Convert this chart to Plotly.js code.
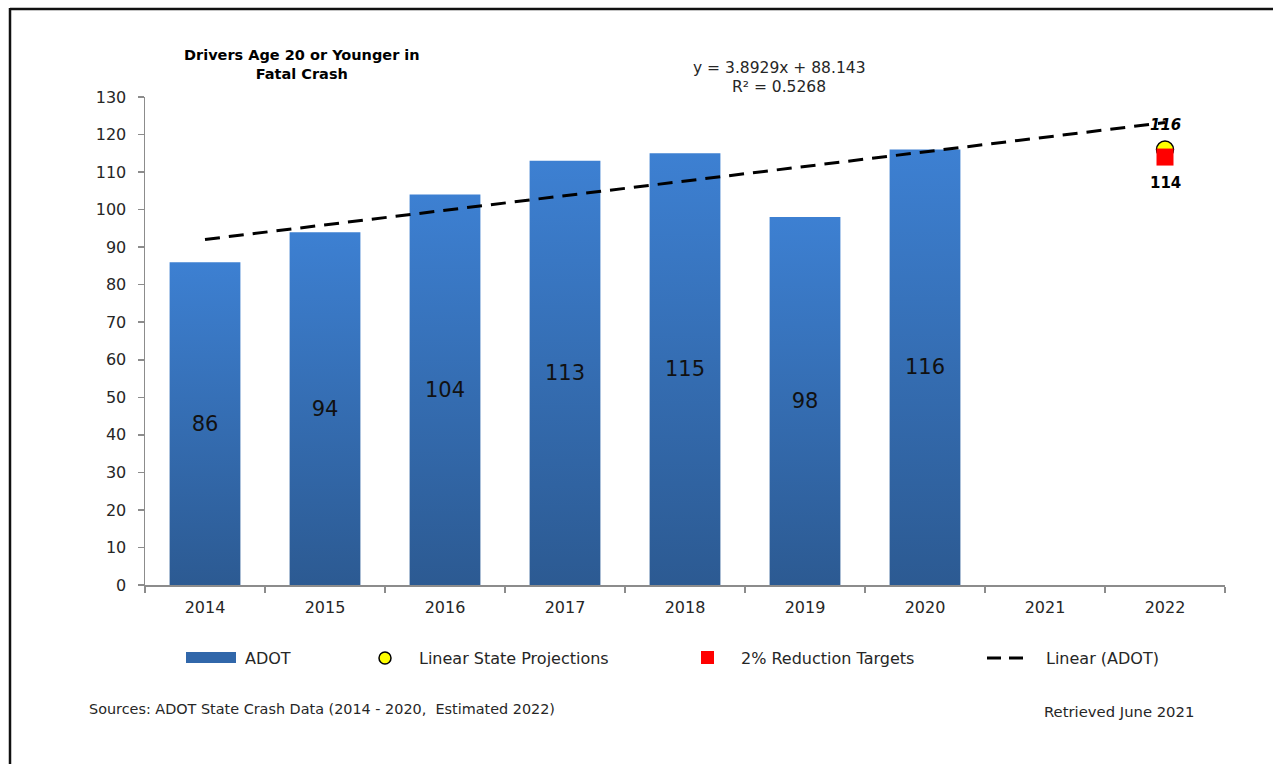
<!DOCTYPE html>
<html>
<head>
<meta charset="utf-8">
<script src="https://cdn.plot.ly/plotly-3.0.1.min.js"></script>
<style>
  html, body { margin: 0; padding: 0; background: #ffffff; }
  #chart { width: 1273px; height: 764px; }
</style>
</head>
<body>
<div id="chart"></div>
<script>
// ---- data ----
const years = ['2014', '2015', '2016', '2017', '2018', '2019', '2020', '2021', '2022'];
const adotYears = ['2014', '2015', '2016', '2017', '2018', '2019', '2020'];
const adotValues = [86, 94, 104, 113, 115, 98, 116];
const projectionYears = ['2022'];
const projectionValues = [116];
const targetYears = ['2022'];
const targetValues = [114];
const trendYears = ['2014', '2022'];
const trendValues = [92.04, 123.18];
const yTicks = [0, 10, 20, 30, 40, 50, 60, 70, 80, 90, 100, 110, 120, 130];

// ---- layout helpers (pixel -> paper) ----
const L = 145, R = 48, T = 97, B = 179, W = 1273, H = 764;
const PW = W - L - R, PH = H - T - B;
const px = x => (x - L) / PW;
const py = y => (H - B - y) / PH;

const textColor = '#262626';
const dvFont = 'DejaVu Sans, sans-serif';

const traces = [
  {
    type: 'bar', name: 'ADOT', x: adotYears, y: adotValues,
    marker: { color: '#3570b8' },
    texttemplate: '%{y}', textposition: 'inside', insidetextanchor: 'middle',
    textangle: 0, constraintext: 'none',
    textfont: { family: dvFont, size: 21, color: '#111111' },
    hoverinfo: 'x+y', showlegend: false
  },
  {
    type: 'scatter', mode: 'lines', name: 'Linear (ADOT)', x: trendYears, y: trendValues,
    line: { color: '#000000', width: 3, dash: '15px,9px' }, showlegend: false
  },
  {
    type: 'scatter', mode: 'markers', name: 'Linear State Projections',
    x: projectionYears, y: projectionValues,
    marker: { symbol: 'circle', size: 17, color: '#ffff00', line: { color: '#000000', width: 1.5 } },
    showlegend: false
  },
  {
    type: 'scatter', mode: 'markers', name: '2% Reduction Targets',
    x: targetYears, y: targetValues,
    marker: { symbol: 'square', size: 17, color: '#ff0000', line: { width: 0 } },
    showlegend: false
  }
];

const annotations = [
  { text: '<b>Drivers Age 20 or Younger in<br>Fatal Crash</b>', xref: 'paper', yref: 'paper',
    x: px(302), y: py(65), xanchor: 'center', yanchor: 'middle', showarrow: false,
    font: { family: dvFont, size: 14.5, color: '#000000' } },
  { text: 'y = 3.8929x + 88.143', xref: 'paper', yref: 'paper',
    x: px(779), y: py(68), xanchor: 'center', yanchor: 'middle', showarrow: false,
    font: { family: dvFont, size: 15.5, color: textColor } },
  { text: 'R² = 0.5268', xref: 'paper', yref: 'paper',
    x: px(779), y: py(87), xanchor: 'center', yanchor: 'middle', showarrow: false,
    font: { family: dvFont, size: 15.5, color: textColor } },
  { text: '<b><i>' + projectionValues[0] + '</i></b>', x: years.indexOf(projectionYears[0]), y: projectionValues[0],
    xref: 'x', yref: 'y', yshift: 25, showarrow: false, xanchor: 'center', yanchor: 'middle',
    font: { family: dvFont, size: 15, color: '#000000' } },
  { text: '<b>' + targetValues[0] + '</b>', x: years.indexOf(targetYears[0]), y: targetValues[0],
    xref: 'x', yref: 'y', yshift: -26, showarrow: false, xanchor: 'center', yanchor: 'middle',
    font: { family: dvFont, size: 15, color: '#000000' } },
  // legend texts
  { text: 'ADOT', xref: 'paper', yref: 'paper', x: px(243), y: py(658), xanchor: 'left', yanchor: 'middle',
    showarrow: false, font: { family: dvFont, size: 16, color: textColor } },
  { text: 'Linear State Projections', xref: 'paper', yref: 'paper', x: px(417), y: py(658), xanchor: 'left', yanchor: 'middle',
    showarrow: false, font: { family: dvFont, size: 16, color: textColor } },
  { text: '2% Reduction Targets', xref: 'paper', yref: 'paper', x: px(739), y: py(658), xanchor: 'left', yanchor: 'middle',
    showarrow: false, font: { family: dvFont, size: 16, color: textColor } },
  { text: 'Linear (ADOT)', xref: 'paper', yref: 'paper', x: px(1044), y: py(658), xanchor: 'left', yanchor: 'middle',
    showarrow: false, font: { family: dvFont, size: 16, color: textColor } },
  // footer
  { text: 'Sources: ADOT State Crash Data (2014 - 2020,&nbsp; Estimated 2022)', xref: 'paper', yref: 'paper',
    x: px(87), y: py(709), xanchor: 'left', yanchor: 'middle', showarrow: false,
    font: { family: dvFont, size: 14.4, color: textColor } },
  { text: 'Retrieved June 2021', xref: 'paper', yref: 'paper',
    x: px(1042), y: py(711), xanchor: 'left', yanchor: 'middle', showarrow: false,
    font: { family: dvFont, size: 14.8, color: textColor } }
];

const shapes = [
  // frame (top + left)
  { type: 'line', xref: 'paper', yref: 'paper', x0: px(10), x1: px(1290), y0: py(9), y1: py(9),
    line: { color: '#111111', width: 2.5 } },
  { type: 'line', xref: 'paper', yref: 'paper', x0: px(10), x1: px(10), y0: py(8), y1: py(780),
    line: { color: '#111111', width: 2.5 } },
  // legend symbols
  { type: 'rect', xref: 'paper', yref: 'paper', x0: px(186), x1: px(236), y0: py(652), y1: py(663),
    fillcolor: '#3167aa', line: { width: 0 } },
  { type: 'circle', xref: 'paper', yref: 'paper', x0: px(379), x1: px(391), y0: py(652), y1: py(664),
    fillcolor: '#ffff00', line: { color: '#000000', width: 1.5 } },
  { type: 'rect', xref: 'paper', yref: 'paper', x0: px(701), x1: px(714), y0: py(651), y1: py(664),
    fillcolor: '#ff0000', line: { width: 0 } },
  { type: 'line', xref: 'paper', yref: 'paper', x0: px(987), x1: px(1031), y0: py(658), y1: py(658),
    line: { color: '#000000', width: 3, dash: '14px,8px' } }
];

const layout = {
  width: W, height: H,
  margin: { l: L, r: R, t: T, b: B, pad: 0 },
  paper_bgcolor: '#ffffff', plot_bgcolor: '#ffffff',
  showlegend: false,
  bargap: 0.41,
  xaxis: {
    type: 'category', categoryorder: 'array', categoryarray: years,
    range: [-0.5, years.length - 0.5],
    showline: true, linecolor: '#8c8c8c', linewidth: 1.5,
    ticks: 'outside', tickson: 'boundaries', ticklen: 6, tickcolor: '#8c8c8c', tickwidth: 1.5,
    ticklabelstandoff: 7,
    showgrid: false, zeroline: false,
    tickfont: { family: dvFont, size: 16, color: textColor }
  },
  yaxis: {
    range: [0, 130], tickvals: yTicks, ticktext: yTicks.map(String),
    showline: true, linecolor: '#8c8c8c', linewidth: 1.5,
    ticks: 'outside', ticklen: 6, tickcolor: '#8c8c8c', tickwidth: 1.5,
    ticklabelstandoff: 8,
    showgrid: false, zeroline: false,
    tickfont: { family: dvFont, size: 16, color: textColor }
  },
  annotations: annotations,
  shapes: shapes
};

function applyGradient(gd) {
  const svg = gd.querySelector('svg.main-svg');
  if (!svg) return;
  let defs = svg.querySelector('defs');
  if (!defs) { defs = document.createElementNS('http://www.w3.org/2000/svg', 'defs'); svg.insertBefore(defs, svg.firstChild); }
  if (!svg.querySelector('#barGrad')) {
    const g = document.createElementNS('http://www.w3.org/2000/svg', 'linearGradient');
    g.setAttribute('id', 'barGrad');
    g.setAttribute('x1', '0'); g.setAttribute('y1', '0');
    g.setAttribute('x2', '0'); g.setAttribute('y2', '1');
    [['0%', '#3d80d2'], ['100%', '#2c5a92']].forEach(([o, c]) => {
      const s = document.createElementNS('http://www.w3.org/2000/svg', 'stop');
      s.setAttribute('offset', o); s.setAttribute('stop-color', c);
      g.appendChild(s);
    });
    defs.appendChild(g);
  }
  gd.querySelectorAll('.barlayer .point path').forEach(p => { p.style.fill = 'url(#barGrad)'; });
}

const gd = document.getElementById('chart');
Plotly.newPlot(gd, traces, layout, { displayModeBar: false, staticPlot: true }).then(() => {
  applyGradient(gd);
  gd.on && gd.on('plotly_afterplot', () => applyGradient(gd));
});
</script>
</body>
</html>
